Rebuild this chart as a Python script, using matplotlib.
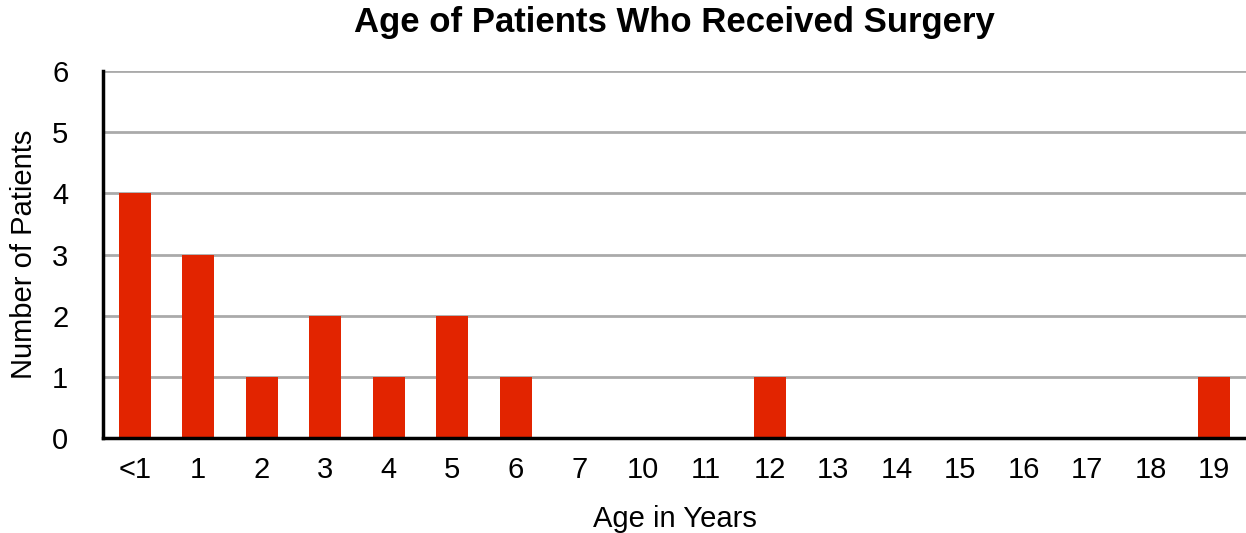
import matplotlib
matplotlib.use('Agg')
import matplotlib.pyplot as plt

ages = ['<1', '1', '2', '3', '4', '5', '6', '7', '10', '11', '12', '13', '14', '15', '16', '17', '18', '19']
patients = [4, 3, 1, 2, 1, 2, 1, 0, 0, 0, 1, 0, 0, 0, 0, 0, 0, 1]

plt.rcParams['font.family'] = ['Liberation Sans', 'DejaVu Sans']
fs = 21

fig = plt.figure(figsize=(12.46, 5.33), dpi=100)
ax = fig.add_axes([0.0827, 0.178, 0.9173, 0.689])

x = range(len(ages))
ax.bar(x, patients, width=0.5, color='#e22400', zorder=3)

ax.set_xlim(-0.5, len(ages) - 0.5)
ax.set_ylim(0, 6)
ax.set_yticks(range(7))
ax.set_xticks(list(x))
ax.set_xticklabels(ages)
ax.yaxis.grid(True, color='#aaaaaa', linewidth=2, zorder=0)
ax.tick_params(axis='both', length=0, labelsize=fs)
ax.tick_params(axis='x', pad=13)
ax.tick_params(axis='y', pad=25)

for s in ['top', 'right']:
    ax.spines[s].set_visible(False)
for s in ['left', 'bottom']:
    ax.spines[s].set_linewidth(2.5)
    ax.spines[s].set_zorder(4)

ax.set_xlabel('Age in Years', fontsize=fs, labelpad=15)
ax.set_ylabel('Number of Patients', fontsize=fs, labelpad=10)
ax.set_title('Age of Patients Who Received Surgery', fontsize=25, fontweight='bold', pad=28)

plt.savefig('out.png', dpi=100)
plt.close()
